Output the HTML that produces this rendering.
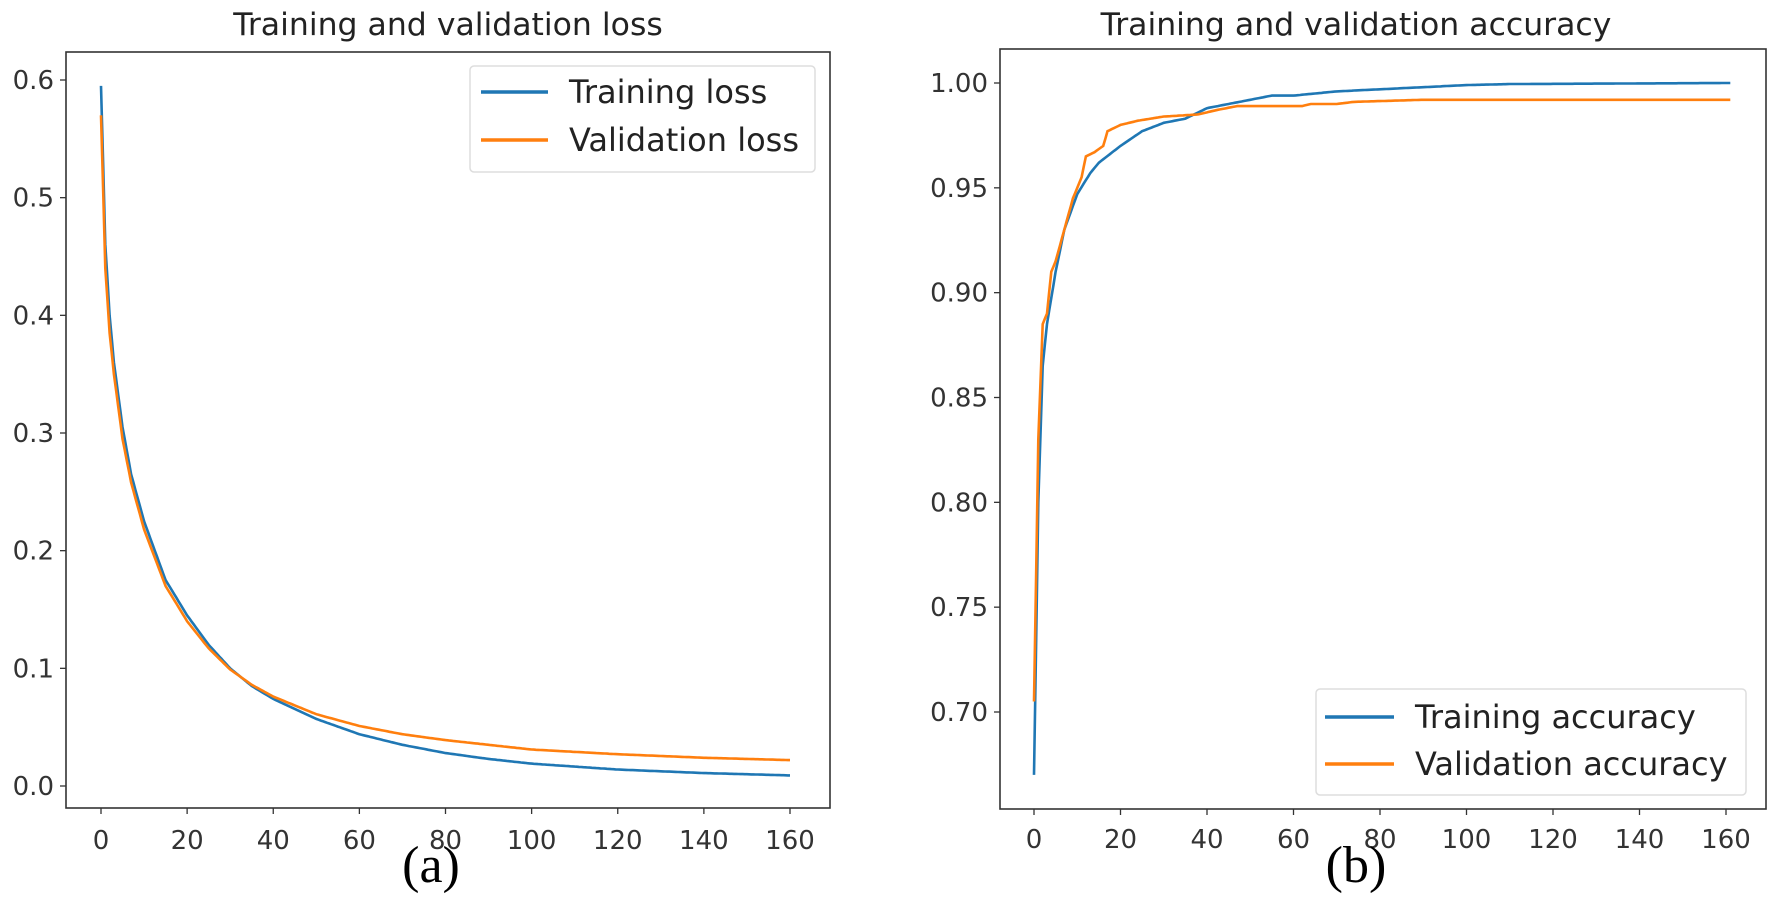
<!DOCTYPE html>
<html><head><meta charset="utf-8"><style>
html,body{margin:0;padding:0;background:#fff;}
svg{display:block;}
</style></head><body>
<svg id="s" width="1770" height="924" xmlns="http://www.w3.org/2000/svg" font-family="'DejaVu Sans','Liberation Sans',sans-serif">
<rect width="1770" height="924" fill="#fff"/>
<text x="448" y="35" font-size="31.5" text-anchor="middle" fill="#222">Training and validation loss</text>
<rect x="66" y="52" width="764" height="756" fill="none" stroke="#333" stroke-width="1.6"/>
<g id="lt" font-size="26" fill="#333" stroke="none"></g>
<path id="ltr" fill="none" stroke="#1f77b4" stroke-width="2.6"/>
<path id="lva" fill="none" stroke="#ff7f0e" stroke-width="2.6"/>
<rect x="470" y="66" width="345" height="106" rx="4" fill="#fff" stroke="#ddd" stroke-width="1.5"/>
<line x1="481" y1="92" x2="548" y2="92" stroke="#1f77b4" stroke-width="3.5"/>
<line x1="481" y1="140" x2="548" y2="140" stroke="#ff7f0e" stroke-width="3.5"/>
<text x="569" y="103" font-size="32" fill="#222">Training loss</text>
<text x="569" y="151" font-size="32" fill="#222">Validation loss</text>
<text x="431" y="882" font-size="52" text-anchor="middle" font-family="'Liberation Serif',serif" fill="#000">(a)</text>
<text x="1356" y="35" font-size="31.5" text-anchor="middle" fill="#222">Training and validation accuracy</text>
<rect x="1000" y="49" width="766" height="760" fill="none" stroke="#333" stroke-width="1.6"/>
<g id="rt" font-size="26" fill="#333"></g>
<path id="rtr" fill="none" stroke="#1f77b4" stroke-width="2.6"/>
<path id="rva" fill="none" stroke="#ff7f0e" stroke-width="2.6"/>
<rect x="1316" y="689" width="430" height="106" rx="4" fill="#fff" stroke="#ddd" stroke-width="1.5"/>
<line x1="1325" y1="717" x2="1394" y2="717" stroke="#1f77b4" stroke-width="3.5"/>
<line x1="1325" y1="764" x2="1394" y2="764" stroke="#ff7f0e" stroke-width="3.5"/>
<text x="1415" y="728" font-size="32" fill="#222">Training accuracy</text>
<text x="1415" y="775" font-size="32" fill="#222">Validation accuracy</text>
<text x="1356" y="882" font-size="52" text-anchor="middle" font-family="'Liberation Serif',serif" fill="#000">(b)</text>
</svg>
<script>
var NS="http://www.w3.org/2000/svg";
function el(p,t,a,txt){var e=document.createElementNS(NS,t);for(var k in a)e.setAttribute(k,a[k]);if(txt!==undefined)e.textContent=txt;p.appendChild(e);return e;}
function interp(k,x){for(var i=1;i<k.length;i++){if(x<=k[i][0]){var a=k[i-1],b=k[i];return a[1]+(b[1]-a[1])*(x-a[0])/(b[0]-a[0]);}}return k[k.length-1][1];}
function path(k,fx,fy,max){var d="";for(var x=0;x<=max;x+=0.5){d+=(x?"L":"M")+fx(x).toFixed(1)+","+fy(interp(k,x)).toFixed(1);}return d;}
var lx=function(v){return 101+v*(790-101)/160;}, ly=function(v){return 786-v*(786-80)/0.6;};
var g=document.getElementById("lt");
for(var i=0;i<=6;i++){var y=ly(i/10);el(g,"line",{x1:60,y1:y,x2:66,y2:y,stroke:"#333","stroke-width":1.3});el(g,"text",{x:54,y:y+9,"text-anchor":"end"},(i/10).toFixed(1));}
for(var i=0;i<=160;i+=20){var x=lx(i);el(g,"line",{x1:x,y1:808,x2:x,y2:814,stroke:"#333","stroke-width":1.3});el(g,"text",{x:x,y:849,"text-anchor":"middle"},i);}
var tl=[[0,.595],[1,.46],[2,.40],[3,.36],[5,.305],[7,.265],[10,.225],[15,.175],[20,.145],[25,.12],[30,.10],[35,.085],[40,.074],[50,.057],[60,.044],[70,.035],[80,.028],[90,.023],[100,.019],[120,.014],[140,.011],[160,.009]];
var vl=[[0,.57],[1,.44],[2,.385],[3,.35],[5,.295],[7,.258],[10,.218],[15,.17],[20,.14],[25,.117],[30,.099],[35,.086],[40,.076],[50,.061],[60,.051],[70,.044],[80,.039],[90,.035],[100,.031],[120,.027],[140,.024],[160,.022]];
document.getElementById("ltr").setAttribute("d",path(tl,lx,ly,160));
document.getElementById("lva").setAttribute("d",path(vl,lx,ly,160));
var rx=function(v){return 1034+v*(1726-1034)/160;}, ry=function(v){return 712-(v-0.7)*(712-83)/0.3;};
g=document.getElementById("rt");
for(var i=0;i<=6;i++){var v=0.7+i*0.05,y=ry(v);el(g,"line",{x1:994,y1:y,x2:1000,y2:y,stroke:"#333","stroke-width":1.3});el(g,"text",{x:988,y:y+9,"text-anchor":"end"},v.toFixed(2));}
for(var i=0;i<=160;i+=20){var x=rx(i);el(g,"line",{x1:x,y1:809,x2:x,y2:815,stroke:"#333","stroke-width":1.3});el(g,"text",{x:x,y:848,"text-anchor":"middle"},i);}
var ta=[[0,.67],[1,.80],[2,.865],[3,.885],[5,.91],[7,.93],[10,.947],[13,.957],[15,.962],[20,.970],[25,.977],[30,.981],[35,.983],[40,.988],[45,.990],[50,.992],[55,.994],[60,.994],[70,.996],[80,.997],[90,.998],[100,.999],[110,.9995],[161,1.0]];
var va=[[0,.705],[1,.83],[2,.885],[3,.89],[4,.91],[5,.915],[7,.93],[9,.945],[11,.955],[12,.965],[14,.967],[16,.97],[17,.977],[20,.98],[24,.982],[30,.984],[38,.985],[42,.987],[47,.989],[62,.989],[64,.990],[70,.990],[74,.991],[90,.992],[161,.992]];
document.getElementById("rtr").setAttribute("d",path(ta,rx,ry,161));
document.getElementById("rva").setAttribute("d",path(va,rx,ry,161));
</script>
</body></html>
